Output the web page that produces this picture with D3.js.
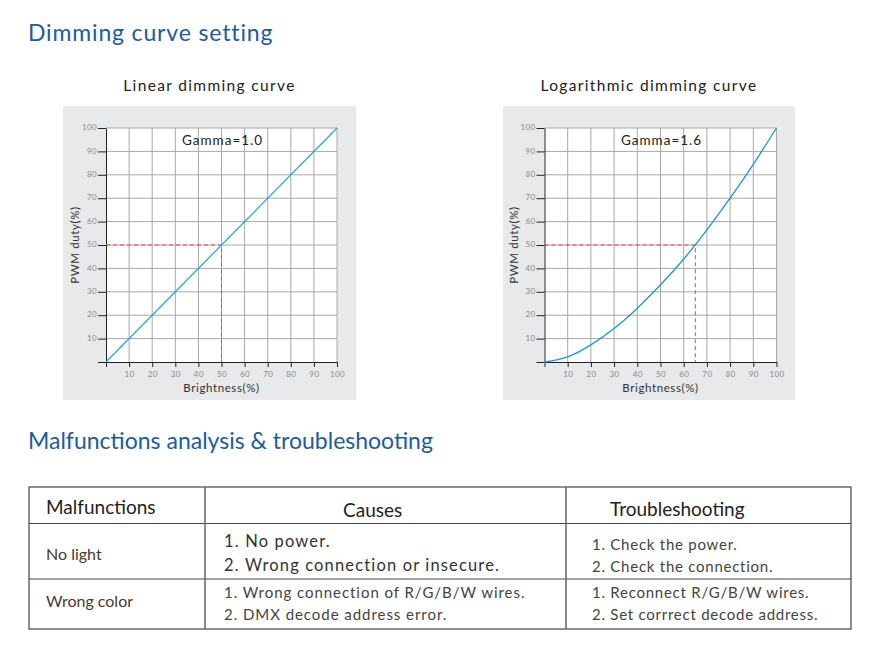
<!DOCTYPE html>
<html><head><meta charset="utf-8">
<script src="https://cdn.jsdelivr.net/npm/d3@7"></script>
<style>body{margin:0;background:#fff}svg{display:block}</style>
</head><body>
<script>
// ---- data ----
const ticks = [10,20,30,40,50,60,70,80,90,100];
const linearX = [0,100];
const linearY = [0,100];
const logX = [0,10,20,30,40,50,60,70,80,90,100];
const logY = [0,2.2,7.3,14.3,23,33,44,56.5,70,84.5,100];
const linearMark = [50,50]; // [brightness, duty]
const logMark = [65,50];
const chartTitles = ["Linear dimming curve","Logarithmic dimming curve"];
const gammaLabels = ["Gamma=1.0","Gamma=1.6"];
const tableHeaders = ["Malfunctions","Causes","Troubleshooting"];
const malfunctions = ["No light","Wrong color"];
const causes = [["1. No power.","2. Wrong connection or insecure."],["1. Wrong connection of R/G/B/W wires.","2. DMX decode address error."]];
const fixes = [["1. Check the power.","2. Check the connection."],["1. Reconnect R/G/B/W wires.","2. Set corrrect decode address."]];

const W=883,H=649;
const FONT="Lato, 'Open Sans', sans-serif";
const svg=d3.select("body").append("svg").attr("width",W).attr("height",H).style("font-family",FONT);

svg.append("text").attr("x",28).attr("y",41).attr("font-size",23).attr("fill","#1b5c9e").style("letter-spacing","0.85px").text("Dimming curve setting");
svg.append("text").attr("x",28).attr("y",449).attr("font-size",23).attr("fill","#1b5c9e").text("Malfunctions analysis & troubleshooting");

function chart(cfg){
  const g=svg.append("g");
  g.append("rect").attr("x",cfg.bx).attr("y",106).attr("width",cfg.bw).attr("height",294).attr("fill","#e8e9eb");
  g.append("text").attr("x",cfg.bx+cfg.bw/2).attr("y",91).attr("text-anchor","middle").attr("font-size",15.5).attr("fill","#222").style("letter-spacing","1.35px").text(cfg.title);
  const x=d3.scaleLinear().domain([0,100]).range([cfg.x0,cfg.x1]);
  const y=d3.scaleLinear().domain([0,100]).range([362,128]);
  g.append("rect").attr("x",x(0)).attr("y",y(100)).attr("width",x(100)-x(0)).attr("height",y(0)-y(100)).attr("fill","#fff");
  // grid
  g.append("g").selectAll("line").data(ticks).join("line")
    .attr("x1",d=>x(d)).attr("x2",d=>x(d)).attr("y1",y(0)).attr("y2",y(100)).attr("stroke","#a8a8a8").attr("stroke-width",1);
  g.append("g").selectAll("line").data(ticks).join("line")
    .attr("y1",d=>y(d)).attr("y2",d=>y(d)).attr("x1",x(0)).attr("x2",x(100)).attr("stroke","#a8a8a8").attr("stroke-width",1);
  // axes
  const ax=g.append("g").attr("transform",`translate(0,${y(0)})`)
    .call(d3.axisBottom(x).tickValues([0,...ticks]).tickSize(5).tickSizeOuter(0).tickPadding(4).tickFormat(d=>d===0?"":d));
  const ay=g.append("g").attr("transform",`translate(${x(0)},0)`)
    .call(d3.axisLeft(y).tickValues([0,...ticks]).tickSize(8).tickSizeOuter(0).tickPadding(1).tickFormat(d=>d===0?"":d));
  [ax,ay].forEach(a=>{a.select(".domain").attr("stroke","#222");a.selectAll(".tick line").attr("stroke","#222");
    a.selectAll("text").attr("fill","#888").attr("font-size",8).attr("font-family",FONT).style("letter-spacing","0.4px");});
  ay.selectAll(".tick text").attr("dy","0.2em");
  g.append("text").attr("x",(x(0)+x(100))/2).attr("y",392).attr("text-anchor","middle").attr("font-size",11.5).attr("fill","#333").style("letter-spacing","0.6px").text("Brightness(%)");
  g.append("text").attr("transform",`translate(${x(0)-27},${(y(0)+y(100))/2}) rotate(-90)`).attr("text-anchor","middle").attr("font-size",11.5).attr("fill","#333").style("letter-spacing","0.6px").text("PWM duty(%)");
  g.append("text").attr("x",x(50)+1).attr("y",145).attr("text-anchor","middle").attr("font-size",13.5).attr("fill","#222").style("letter-spacing","1px").text(cfg.gamma);
  // reference dashes
  const m=cfg.mark;
  g.append("path").attr("d",`M${x(0)},${y(m[1])}H${x(m[0])}V${y(0)}`).attr("fill","none").attr("stroke","#e0474c").attr("stroke-width",1).attr("stroke-dasharray","4,3");
  // curve
  const pts=cfg.xs.map((v,i)=>[v,cfg.ys[i]]);
  g.append("path").datum(pts).attr("d",d3.line().x(d=>x(d[0])).y(d=>y(d[1])).curve(d3.curveNatural))
    .attr("fill","none").attr("stroke",cfg.color).attr("stroke-width",1.3);
}
chart({bx:63,bw:293,x0:106,x1:337,title:chartTitles[0],gamma:gammaLabels[0],mark:linearMark,xs:linearX,ys:linearY,color:"#2aa8e2"});
chart({bx:503,bw:292,x0:544.5,x1:776.5,title:chartTitles[1],gamma:gammaLabels[1],mark:logMark,xs:logX,ys:logY,color:"#1b98dc"});

// table
const T={l:29,r:851,t:487,h1:523.5,h2:579,b:629,c1:205,c2:566};
const tg=svg.append("g");
tg.append("rect").attr("x",T.l).attr("y",T.t).attr("width",T.r-T.l).attr("height",T.b-T.t).attr("fill","none").attr("stroke","#444").attr("stroke-width",1.2);
[T.h1,T.h2].forEach(yy=>tg.append("line").attr("x1",T.l).attr("x2",T.r).attr("y1",yy).attr("y2",yy).attr("stroke","#444").attr("stroke-width",1.2));
[T.c1,T.c2].forEach(xx=>tg.append("line").attr("x1",xx).attr("x2",xx).attr("y1",T.t).attr("y2",T.b).attr("stroke","#666").attr("stroke-width",1.5));
const hx=[46,343,610], hy=[514,517,516];
tableHeaders.forEach((h,i)=>tg.append("text").attr("x",hx[i]).attr("y",hy[i]).attr("font-size",19).attr("fill","#222").text(h));
const rowMid=[555,602], causeY=[[547,571],[598,620]], fixY=[[550,572],[598,620]];
malfunctions.forEach((m,i)=>{
  tg.append("text").attr("x",46).attr("y",rowMid[i]+5).attr("font-size",16).attr("fill","#4a3a30").text(m);
  causes[i].forEach((c,j)=>tg.append("text").attr("x",224).attr("y",causeY[i][j]).attr("font-size",i===0?16.5:15).attr("fill",i===0?"#333":"#444").style("letter-spacing",i===0?"1.15px":"0.95px").text(c));
  fixes[i].forEach((c,j)=>tg.append("text").attr("x",592).attr("y",fixY[i][j]).attr("font-size",15).attr("fill","#444").style("letter-spacing","0.75px").text(c));
});
</script>
</body></html>
